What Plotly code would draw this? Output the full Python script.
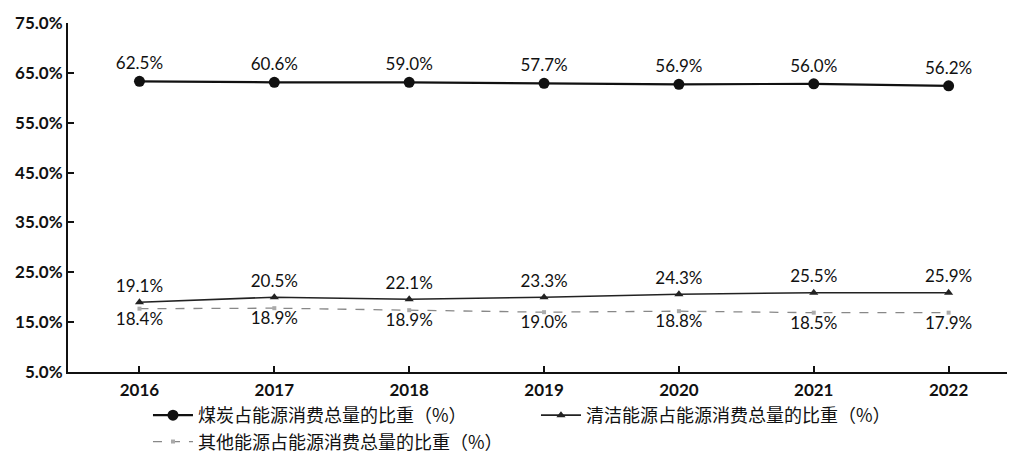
import plotly.graph_objects as go

years = ["2016", "2017", "2018", "2019", "2020", "2021", "2022"]

# Positions of the marks as drawn in the picture (percent)
coal_plotted = [63.3, 63.1, 63.1, 62.9, 62.7, 62.8, 62.4]
clean_plotted = [19.0, 20.0, 19.6, 20.0, 20.6, 20.9, 20.9]
other_plotted = [17.7, 17.8, 17.4, 17.0, 17.2, 16.9, 16.9]

# Value labels printed on the chart
coal_labels = ["62.5%", "60.6%", "59.0%", "57.7%", "56.9%", "56.0%", "56.2%"]
clean_labels = ["19.1%", "20.5%", "22.1%", "23.3%", "24.3%", "25.5%", "25.9%"]
other_labels = ["18.4%", "18.9%", "18.9%", "19.0%", "18.8%", "18.5%", "17.9%"]

y_ticks = [5, 15, 25, 35, 45, 55, 65, 75]
y_tick_text = ["5.0%", "15.0%", "25.0%", "35.0%", "45.0%", "55.0%", "65.0%", "75.0%"]

names = ["煤炭占能源消费总量的比重（%）", "清洁能源占能源消费总量的比重（%）", "其他能源占能源消费总量的比重（%）"]

x = list(range(len(years)))
label_font = dict(family="Lato, DejaVu Sans, sans-serif", size=17, color="#111")

fig = go.Figure()
fig.add_trace(go.Scatter(
    x=x, y=coal_plotted, name=names[0], mode="lines+markers+text",
    line=dict(color="#111", width=2.2), marker=dict(symbol="circle", size=11, color="#111"),
    text=coal_labels, textposition="top center", textfont=label_font,
))
fig.add_trace(go.Scatter(
    x=x, y=clean_plotted, name=names[1], mode="lines+markers+text",
    line=dict(color="#222", width=1.6), marker=dict(symbol="triangle-up", size=8, color="#222"),
    text=clean_labels, textposition="top center", textfont=label_font,
))
fig.add_trace(go.Scatter(
    x=x, y=other_plotted, name=names[2], mode="lines+markers+text",
    line=dict(color="#888", width=1.3, dash="dash"), marker=dict(symbol="square", size=4, color="#aaa"),
    text=other_labels, textposition="bottom center", textfont=label_font,
))

fig.update_layout(
    width=1007, height=445,
    margin=dict(l=60, r=3, t=15, b=81, autoexpand=False),
    paper_bgcolor="white", plot_bgcolor="white",
    showlegend=True,
    legend=dict(
        orientation="h", x=0.139, xref="container", xanchor="left",
        y=0.126, yref="container", yanchor="top",
        entrywidth=333, entrywidthmode="pixels",
        bgcolor="rgba(0,0,0,0)",
        font=dict(family="Noto Sans CJK SC", size=18, color="#111"),
        itemwidth=40, tracegroupgap=0,
    ),
    xaxis=dict(
        range=[-0.53, 6.47], tickmode="array", tickvals=x, ticktext=years,
        showline=True, linecolor="#111", linewidth=2, ticks="inside", ticklen=6,
        tickcolor="#111", tickwidth=2, showgrid=False, zeroline=False, automargin=False,
        ticklabelstandoff=2,
        tickfont=dict(family="Lato, DejaVu Sans, sans-serif", size=17, color="#111", weight="bold"),
    ),
    yaxis=dict(
        range=[5, 75], tickmode="array", tickvals=y_ticks, ticktext=y_tick_text,
        showline=True, linecolor="#111", linewidth=2, ticks="inside", ticklen=6,
        tickcolor="#111", tickwidth=2, showgrid=False, zeroline=False, automargin=False,
        tickfont=dict(family="Lato, DejaVu Sans, sans-serif", size=17, color="#111", weight="bold"),
    ),
)

fig.write_html("out.html")
